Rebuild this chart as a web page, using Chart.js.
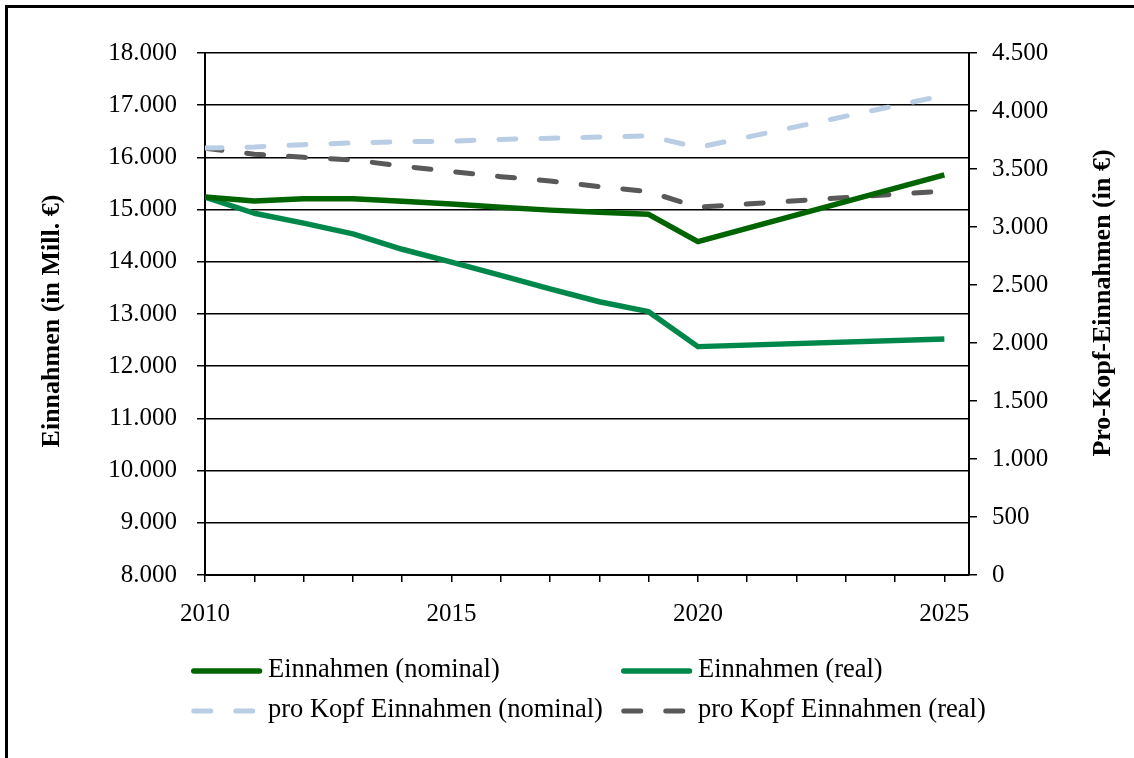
<!DOCTYPE html>
<html lang="de">
<head>
<meta charset="UTF-8">
<title>Einnahmen</title>
<script src="https://cdn.jsdelivr.net/npm/chart.js"></script>
<style>
    body{margin:0; width:1134px; height:758px; overflow:hidden; background:#fff; position:relative; font-family:"Liberation Serif", serif;}
    #frame{position:absolute; left:5px; top:5px; width:1200px; height:800px; border:3px solid #000;}
    #wrap{position:absolute; left:0; top:0; width:1134px; height:758px;}
    .leg{position:absolute; font-size:26.5px; line-height:26px; white-space:nowrap; color:#000;}
    .sample{position:absolute;}
</style>
</head>
<body>
<div id="frame"></div>
<div id="wrap"><canvas id="myChart"></canvas></div>
<div id="legend"></div>
<script>
// Jahre (zwischen 2020 und 2025 keine Werte)
const years = [2010, 2011, 2012, 2013, 2014, 2015, 2016, 2017, 2018, 2019, 2020, 2025];
// Mill. Euro, linke Achse
const einnNominal = [15240, 15165, 15210, 15210, 15160, 15105, 15045, 14990, 14950, 14910, 14385, 15665];
const einnReal    = [15240, 14930, 14740, 14535, 14240, 13995, 13740, 13480, 13235, 13045, 12375, 12520];
// Euro pro Kopf, rechte Achse
const kopfNominal = [3680, 3690, 3710, 3725, 3735, 3740, 3755, 3765, 3775, 3785, 3685, 4135];
const kopfReal    = [3680, 3627, 3601, 3578, 3525, 3478, 3434, 3397, 3348, 3305, 3170, 3310];

const seriesNames = ['Einnahmen (nominal)', 'Einnahmen (real)', 'pro Kopf Einnahmen (nominal)', 'pro Kopf Einnahmen (real)'];
const titleLeft = 'Einnahmen (in Mill. €)';
const titleRight = 'Pro-Kopf-Einnahmen (in €)';

const FONT = '"Liberation Serif", "Times New Roman", serif';

function fmt(v){
    return String(Math.round(v)).replace(/\B(?=(\d{3})+(?!\d))/g, '.');
}
function pts(arr){
    return years.map((y, i) => ({x: y, y: arr[i]}));
}

// Achsentitel (beide von unten nach oben lesbar)
const axisTitles = {
    id: 'axisTitles',
    afterDraw(chart){
        const ctx = chart.ctx;
        ctx.save();
        ctx.font = 'bold 26px ' + FONT;
        ctx.fillStyle = '#000';
        ctx.textAlign = 'center';
        ctx.textBaseline = 'middle';
        [[52, 321, titleLeft], [1103, 303, titleRight]].forEach(t => {
            ctx.save();
            ctx.translate(t[0], t[1]);
            ctx.rotate(-Math.PI / 2);
            ctx.fillText(t[2], 0, 0);
            ctx.restore();
        });
        ctx.restore();
    }
};

const ctx = document.getElementById('myChart');
const chart = new Chart(ctx, {
    type: 'line',
    data: {
        datasets: [{
            label: seriesNames[0],
            data: pts(einnNominal),
            yAxisID: 'y',
            borderColor: '#006400',
            borderWidth: 5.5
        }, {
            label: seriesNames[1],
            data: pts(einnReal),
            yAxisID: 'y',
            borderColor: '#00884A',
            borderWidth: 5.5
        }, {
            label: seriesNames[2],
            data: pts(kopfNominal),
            yAxisID: 'y1',
            borderColor: '#B9CDE5',
            borderWidth: 5,
            borderDash: [17, 25],
            borderCapStyle: 'round'
        }, {
            label: seriesNames[3],
            data: pts(kopfReal),
            yAxisID: 'y1',
            borderColor: '#595959',
            borderWidth: 5,
            borderDash: [17, 25],
            borderCapStyle: 'round'
        }]
    },
    options: {
        animation: false,
        responsive: true,
        maintainAspectRatio: false,
        layout: {padding: {top: 53, left: 0, right: 0, bottom: 0}},
        elements: {
            point: {radius: 0},
            line: {tension: 0, borderJoinStyle: 'round', fill: false}
        },
        plugins: {legend: {display: false}, tooltip: {enabled: false}},
        scales: {
            x: {
                type: 'linear',
                min: 2010,
                max: 2025.5,
                afterFit(s){ s.height = 183; },
                grid: {drawOnChartArea: false, drawTicks: true, tickLength: 7, color: '#000', lineWidth: 1.5},
                border: {color: '#000', width: 2},
                ticks: {
                    stepSize: 1,
                    includeBounds: false,
                    autoSkip: false,
                    maxRotation: 0,
                    padding: 17,
                    color: '#000',
                    font: {family: FONT, size: 25},
                    callback: v => (Math.round(v) % 5 === 0 ? String(Math.round(v)) : '')
                }
            },
            y: {
                position: 'left',
                min: 8000,
                max: 18000,
                afterFit(s){ s.width = 205; },
                grid: {color: '#000', lineWidth: 1.5, tickLength: 8},
                border: {color: '#000', width: 2},
                ticks: {stepSize: 1000, padding: 20, color: '#000', font: {family: FONT, size: 25}, callback: v => fmt(v)}
            },
            y1: {
                position: 'right',
                min: 0,
                max: 4500,
                afterFit(s){ s.width = 165; },
                grid: {drawOnChartArea: false, color: '#000', lineWidth: 1.5, tickLength: 8},
                border: {color: '#000', width: 2},
                ticks: {stepSize: 500, padding: 15, color: '#000', font: {family: FONT, size: 25}, callback: v => fmt(v)}
            }
        }
    },
    plugins: [axisTitles]
});

// Legende in zwei Spalten, aus den Datensätzen gebaut
const legPos = [[191, 667], [621, 667], [191, 707], [621, 707]];
const legend = document.getElementById('legend');
chart.data.datasets.forEach((ds, i) => {
    const x = legPos[i][0], y = legPos[i][1];
    const dash = ds.borderDash ? ' stroke-dasharray="17 25"' : '';
    const s = document.createElement('div');
    s.className = 'sample';
    s.style.left = x + 'px';
    s.style.top = (y - 5) + 'px';
    s.innerHTML = '<svg width="72" height="10"><line x1="2.75" y1="5" x2="68.5" y2="5" stroke="' + ds.borderColor +
        '" stroke-width="' + ds.borderWidth + '" stroke-linecap="round"' + dash + '/></svg>';
    legend.appendChild(s);
    const t = document.createElement('div');
    t.className = 'leg';
    t.style.left = (x + 77) + 'px';
    t.style.top = (y - 12) + 'px';
    t.textContent = ds.label;
    legend.appendChild(t);
});
</script>
</body>
</html>
